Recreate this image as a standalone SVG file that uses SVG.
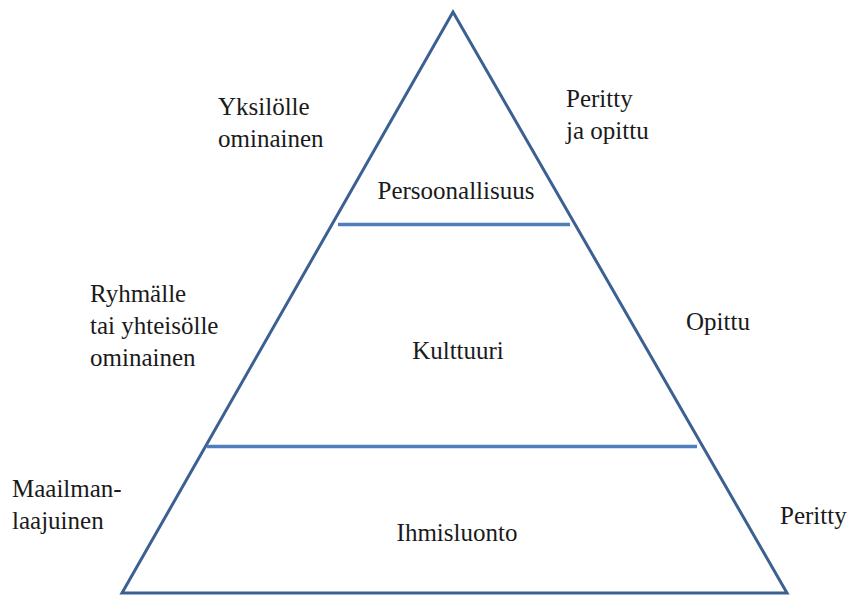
<svg xmlns="http://www.w3.org/2000/svg" width="849" height="596" viewBox="0 0 849 596">
<defs>
<style type="text/css">
.tri{fill:none;stroke:#3b6091;stroke-width:3;stroke-linejoin:miter}
.div{stroke:#4f7fba;stroke-width:3.5}
</style>
</defs>
<rect width="849" height="596" fill="#fff"/>
<g id="pyramid">
<polygon class="tri" points="453,12 122,593 787,593"/>
</g>
<g id="connectors">
<line class="div" x1="338" y1="224.5" x2="570" y2="224.5"/>
<line class="div" x1="207" y1="446.5" x2="697" y2="446.5"/>
</g>
<g font-family="Liberation Serif, DejaVu Serif, serif" font-size="25" fill="#1a1a1a">
<g id="persoonallisuus"><text text-anchor="middle" x="456" y="199">Persoonallisuus</text></g>
<g id="kulttuuri"><text text-anchor="middle" x="458" y="359">Kulttuuri</text></g>
<g id="ihmisluonto"><text text-anchor="middle" x="457" y="541">Ihmisluonto</text></g>
<g id="yksilolle"><text x="218" y="115">Yksilölle</text><text x="218" y="147">ominainen</text></g>
<g id="peritty-opittu"><text x="566" y="107">Peritty</text><text x="566" y="139">ja opittu</text></g>
<g id="ryhmalle"><text x="90" y="302">Ryhmälle</text><text x="90" y="334">tai yhteisölle</text><text x="90" y="366">ominainen</text></g>
<g id="opittu"><text x="686" y="330">Opittu</text></g>
<g id="maailmanlaajuinen"><text x="12" y="497">Maailman-</text><text x="12" y="529">laajuinen</text></g>
<g id="peritty"><text x="780" y="524">Peritty</text></g>
</g>
</svg>
